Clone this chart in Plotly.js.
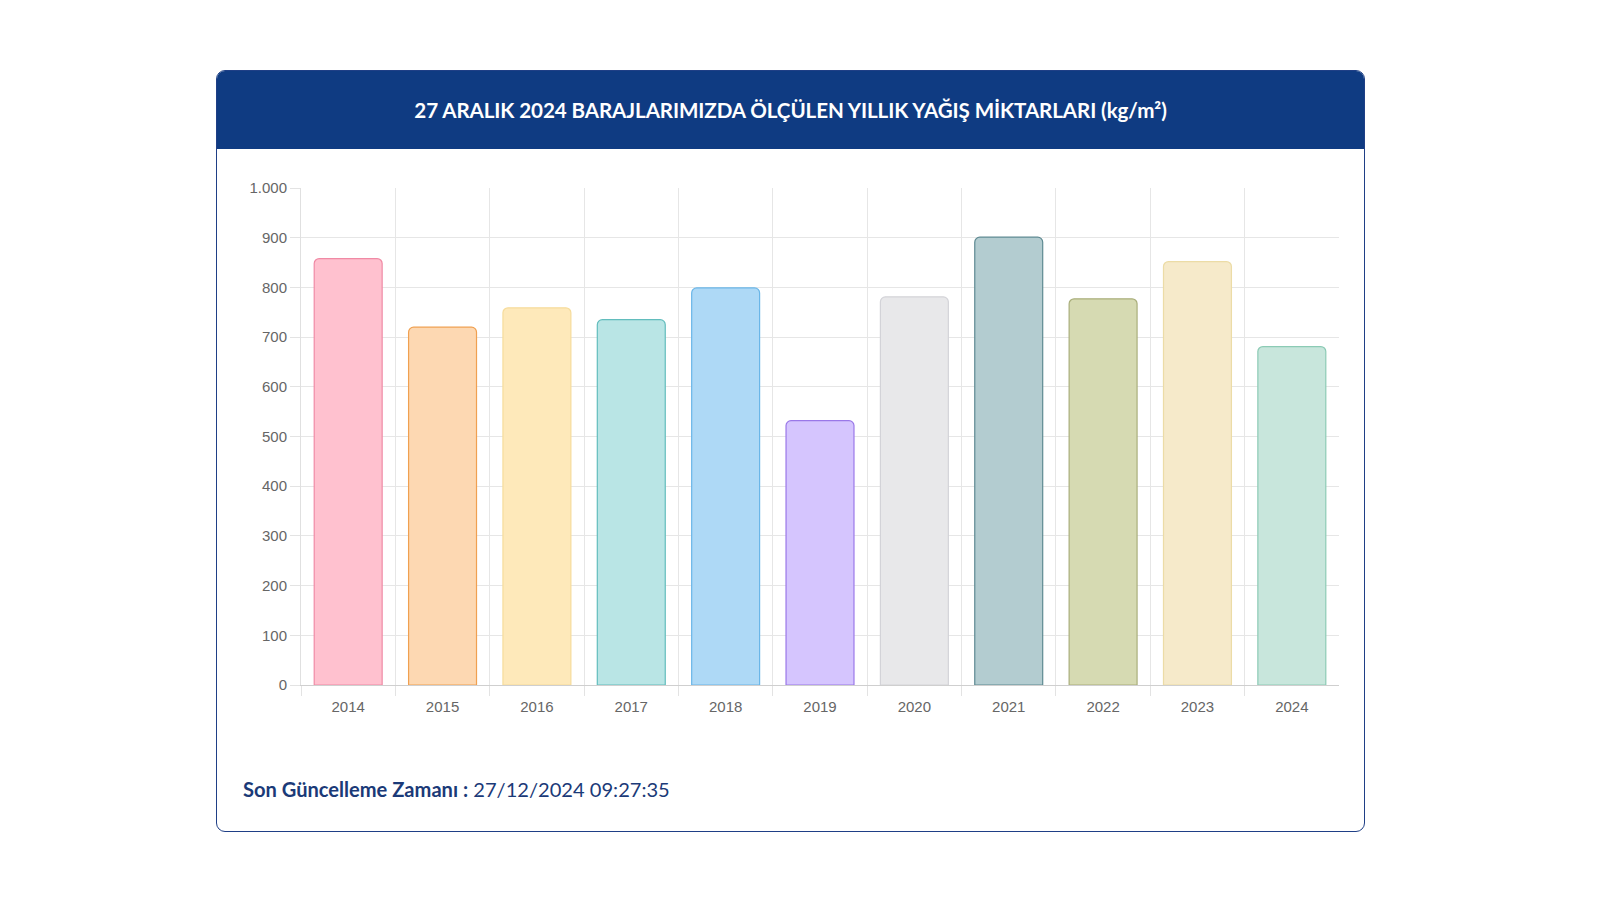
<!DOCTYPE html>
<html>
<head>
<meta charset="utf-8">
<script src="https://cdn.plot.ly/plotly-3.0.1.min.js"></script>
<style>
  html, body { margin: 0; padding: 0; width: 1600px; height: 900px; background: #ffffff; overflow: hidden; }
  #card {
    position: absolute; left: 216px; top: 70px; width: 1147px; height: 760px;
    border: 1.5px solid #1f3f86; border-radius: 9px; background: #fff; overflow: hidden;
  }
  #header {
    position: absolute; left: 0; top: 0; width: 100%; height: 78px; background: #0f3b82;
    color: #ffffff; font-family: Lato, "Open Sans", sans-serif; font-weight: 700; font-size: 20.6px;
    display: flex; align-items: center; justify-content: center; letter-spacing: -0.1px;
  }
  #footer {
    position: absolute; left: 243px; top: 777px; font-family: Lato, "Open Sans", sans-serif;
    font-size: 20.1px; color: #1b3a78; white-space: nowrap;
  }
  #footer b { font-weight: 700; }
  #chart { position: absolute; left: 0; top: 0; width: 1600px; height: 900px; }
</style>
</head>
<body>
<div id="card"><div id="header">27 ARALIK 2024 BARAJLARIMIZDA ÖLÇÜLEN YILLIK YAĞIŞ MİKTARLARI (kg/m²)</div></div>
<div id="footer"><b>Son Güncelleme Zamanı :</b> 27/12/2024 09:27:35</div>
<div id="chart"></div>
<script>
const years = ["2014","2015","2016","2017","2018","2019","2020","2021","2022","2023","2024"];
const rainfall = [858, 720, 759, 735, 799, 532, 781, 901, 777, 852, 681];
const fillColors = ["#ffc1cf","#fdd8b2","#fee9ba","#b9e5e5","#aed9f6","#d5c5fe","#e8e8ea","#b3ccd0","#d6dab2","#f6eaca","#c8e6dc"];
const lineColors = ["#f08aa5","#f0a050","#f6dc9c","#62bdbd","#6ab6e8","#9a78e8","#d3d3d8","#5e8a92","#a9ae7b","#ecdca6","#8ccbb5"];
const yTicks = [0,100,200,300,400,500,600,700,800,900,1000];

const trace = {
  type: "bar",
  x: years,
  y: rainfall,
  marker: { color: fillColors, line: { color: lineColors, width: 1.2 }, cornerradius: 5 },
  hoverinfo: "x+y"
};

const layout = {
  width: 1600, height: 900,
  margin: { l: 301, r: 261, t: 188, b: 215, pad: 0 },
  paper_bgcolor: "rgba(0,0,0,0)",
  plot_bgcolor: "rgba(0,0,0,0)",
  separators: ",.",
  bargap: 0.28,
  showlegend: false,
  font: { family: "Liberation Sans, Arial, sans-serif", size: 15, color: "#666666" },
  xaxis: {
    type: "category",
    range: [-0.5, 10.4999],
    tickson: "boundaries",
    ticks: "outside", ticklen: 10, tickcolor: "#e3e3e3", tickwidth: 1,
    ticklabelstandoff: 8,
    showgrid: true, gridcolor: "#e6e6e6", gridwidth: 1,
    showline: true, linecolor: "#cfcfcf", linewidth: 1,
    tickfont: { size: 15, color: "#666666" },
    fixedrange: true
  },
  yaxis: {
    range: [0, 1000],
    tickmode: "array", tickvals: yTicks,
    tickformat: ",d", separatethousands: true,
    ticks: "outside", ticklen: 10, tickcolor: "#e3e3e3", tickwidth: 1,
    showgrid: true, gridcolor: "#e6e6e6", gridwidth: 1,
    zeroline: false,
    showline: true, linecolor: "#e0e0e0", linewidth: 1,
    tickfont: { size: 15, color: "#666666" },
    fixedrange: true
  }
};

Plotly.newPlot("chart", [trace], layout, { displayModeBar: false, staticPlot: true });
</script>
</body>
</html>
